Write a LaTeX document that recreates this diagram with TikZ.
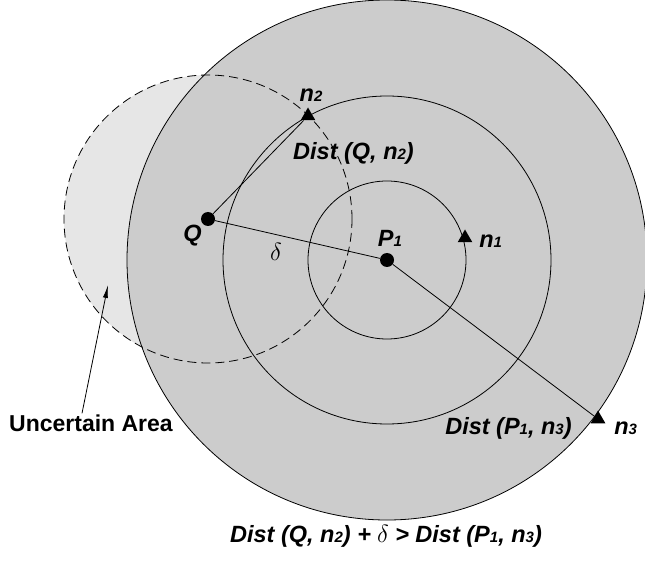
\documentclass[tikz,border=0pt]{standalone}
\usepackage{fontspec}
\newfontfamily\lblfont{Liberation Sans}
\usepackage{xcolor}
\definecolor{cArea}{HTML}{E6E6E6}
\definecolor{cRange}{HTML}{CCCCCC}
\usetikzlibrary{positioning,arrows.meta,shapes.geometric}
\newcommand{\subidx}[1]{{\fontsize{15}{15}\selectfont #1}}
\tikzset{
  pt-dot/.style={circle,fill=black,inner sep=0pt,minimum size=14pt},
  pt-obj/.style={regular polygon,regular polygon sides=3,fill=black,
    inner sep=0pt,minimum size=17pt},
  lbl/.style={font=\lblfont\bfseries\itshape\fontsize{23.5}{25}\selectfont,inner sep=1pt},
  lbl-plain/.style={font=\lblfont\bfseries\fontsize{23}{25}\selectfont,inner sep=1pt},
  lbl-math/.style={font=\fontsize{25}{25}\selectfont,inner sep=1pt},
  ring/.style={draw=black,line width=0.8pt},
  ring-uncertain/.style={draw=black,line width=0.8pt,dash pattern=on 9pt off 5pt},
  link/.style={draw=black,line width=0.8pt},
  arrow/.style={-{Latex[length=13pt,width=5pt]},line width=0.8pt,draw=black},
}

\begin{document}
\begin{tikzpicture}[x=1pt,y=-1pt]
  \useasboundingbox (0,0) rectangle (645,561);
  \coordinate (cP) at (387,260);
  \coordinate (cQ) at (208,219);
  % uncertain area, then search ranges round P1
  \fill[cArea] (cQ) circle[radius=144pt];
  \filldraw[ring,fill=cRange] (cP) circle[radius=260pt];
  \draw[ring] (cP) circle[radius=164pt];
  \draw[ring] (cP) circle[radius=79pt];
  \draw[ring-uncertain] (cQ) circle[radius=144pt];
  % points and objects
  \node[pt-dot] (P1) at (cP) {};
  \node[pt-dot] (Q)  at (cQ) {};
  \node[pt-obj] (n1) at (465,238) {};
  \node[pt-obj] (n2) at (308,116) {};
  \node[pt-obj] (n3) at (598,419) {};
  \draw[link] (Q) -- (n2);
  \draw[link] (Q) -- (P1);
  \draw[link] (P1) -- (n3);
  % labels
  \node[lbl,below left=0pt of Q]                (q-lbl)  {Q};
  \node[lbl,above=5pt of P1,xshift=3pt]         (p1-lbl) {P\subidx{1}};
  \node[lbl,right=8pt of n1,yshift=-3pt]        (n1-lbl) {n\subidx{1}};
  \node[lbl,above=4pt of n2,xshift=3pt]         (n2-lbl) {n\subidx{2}};
  \node[lbl,right=10pt of n3,yshift=-9pt]       (n3-lbl) {n\subidx{3}};
  \node[lbl,anchor=north west] (d-qn2) at (292,141) {Dist (Q, n\subidx{2})};
  \node[lbl,left=20pt of n3,yshift=-9pt]        (d-pn3)  {Dist (P\subidx{1}, n\subidx{3})};
  \node[lbl-math] (dlt) at (276,252) {$\delta$};
  \node[lbl-plain] (ua) at (91,423) {Uncertain Area};
  \coordinate (ua-tip) at (108,285);
  \draw[arrow] ([xshift=-9pt]ua.north) -- (ua-tip);
  \node[lbl] (rule) at (386,536)
    {Dist (Q, n\subidx{2}) +\hspace{6pt}{\fontsize{25}{25}\selectfont$\delta$} > Dist (P\subidx{1}, n\subidx{3})};
\end{tikzpicture}
\end{document}
